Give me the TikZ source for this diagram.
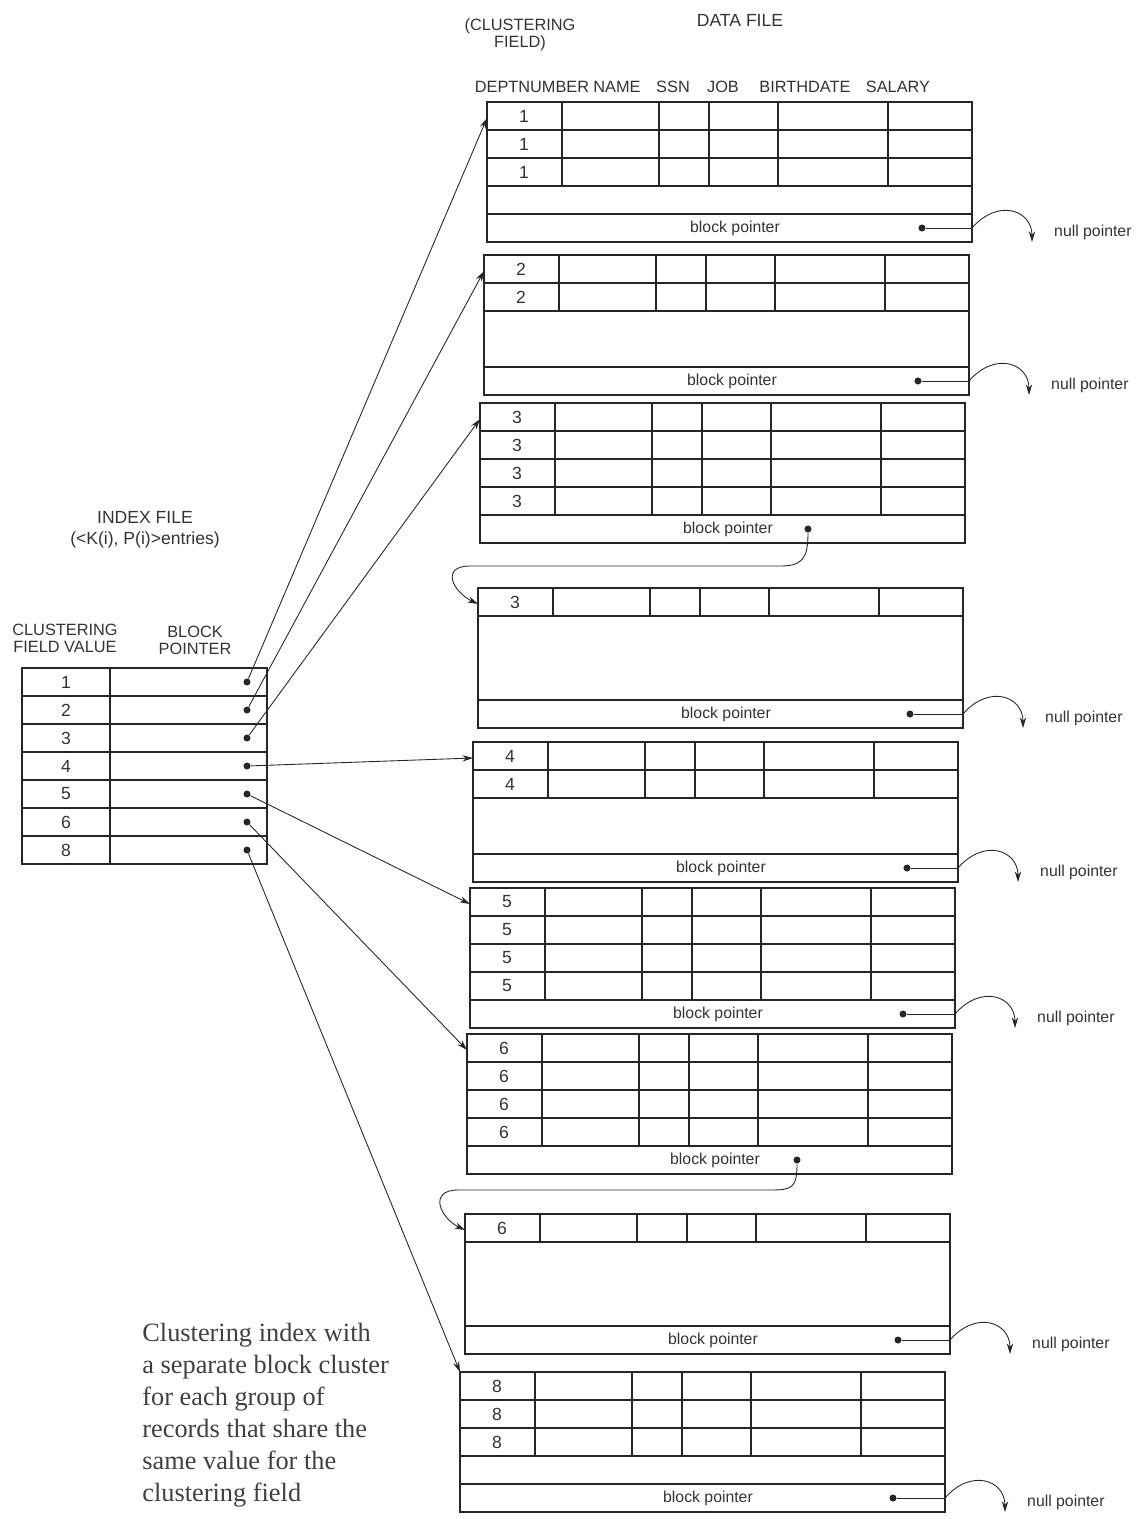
\documentclass[tikz,border=0pt]{standalone}
\usepackage{fontspec}
\setmainfont{Liberation Sans}
\newfontfamily\capfont{Liberation Serif}
\usetikzlibrary{arrows.meta,calc}

\newcommand{\datablock}[6]{%
  \begin{scope}[shift={(#2,#3)}]
    \draw[frame] (0,0) rectangle (485,140);
    \draw[frame] (0,112) -- (485,112);
    \foreach \row in {1,...,#5} {
      \draw[frame] (0,28*\row) -- (485,28*\row);
      \node[val] (#1-\row) at (37,28*\row-14) {#4};
    }
    \foreach \col in {75,172,222,291,401}
      \draw[frame] (\col,0) -- (\col,28*#5);
    \coordinate (#1-nw) at (0,0);
    \coordinate (#1-in) at (0,16);
    \coordinate (#1-e) at (485,126);
    \node[bp] (#1-t) at (248,126) {block pointer};
    \node[dot] (#1-p) at (#6,126) {};
  \end{scope}}

\newcommand{\nullarrow}[1]{%
  \draw[link] (#1-p) -- (#1-e);
  \coordinate (#1-n) at ($(#1-e)+(60,14)$);
  \draw[ptr] (#1-e) .. controls ($(#1-e)+(26,-30)$) and ($(#1-n)+(0,-32)$) .. (#1-n);
  \node[note] (#1-z) at ($(#1-e)+(76,4)$) {null pointer};}

\begin{document}
\begin{tikzpicture}[x=0.02cm, y=-0.02cm,
  frame/.style={draw=black!85, line width=0.9pt},
  link/.style={draw=black!85, line width=0.5pt},
  ptr/.style={link, -{Stealth[length=6pt,width=3.6pt]}},
  dot/.style={circle, fill=black!85, inner sep=0pt, minimum size=4pt},
  val/.style={font=\fontsize{10}{12}\selectfont, text=black!80},
  bp/.style={font=\fontsize{9}{11}\selectfont, text=black!80},
  note/.style={bp, anchor=west},
  head/.style={font=\fontsize{9.3}{9.7}\selectfont, text=black!80, align=center},
  title/.style={font=\fontsize{10}{11.9}\selectfont, text=black!80, align=center},
  caption/.style={font=\capfont\fontsize{15}{18.2}\selectfont, text=black!75, align=left, anchor=north west, inner sep=0pt}]
  \useasboundingbox (0,0) rectangle (1137,1519);

  \node[title] (df) at (740,20) {DATA FILE};
  \node[head] (cf) at (520,35) {(CLUSTERING\\FIELD)};
  \node[head] (h1) at (532,87) {DEPTNUMBER};
  \node[head] (h2) at (617,87) {NAME};
  \node[head] (h3) at (673,87) {SSN};
  \node[head] (h4) at (723,87) {JOB};
  \node[head] (h5) at (805,87) {BIRTHDATE};
  \node[head] (h6) at (898,87) {SALARY};

  \datablock{b1}{487}{102}{1}{3}{435}
  \datablock{b2}{484}{255}{2}{2}{434}
  \datablock{b3}{480}{403}{3}{4}{328}
  \datablock{b3x}{478}{588}{3}{1}{432}
  \datablock{b4}{473}{742}{4}{2}{434}
  \datablock{b5}{470}{888}{5}{4}{433}
  \datablock{b6}{467}{1034}{6}{4}{330}
  \datablock{b6x}{465}{1214}{6}{1}{433}
  \datablock{b8}{460}{1372}{8}{3}{433}

  \nullarrow{b1}
  \nullarrow{b2}
  \nullarrow{b3x}
  \nullarrow{b4}
  \nullarrow{b5}
  \nullarrow{b6x}
  \nullarrow{b8}

  \coordinate (c3a) at (780,566);
  \coordinate (c3b) at (470,566);
  \draw[ptr] (b3-p) .. controls ($(b3-p)+(0,30)$) and ($(c3a)+(22,0)$) .. (c3a) -- (c3b)
    .. controls ($(c3b)+(-30,0)$) and ($(b3x-in)+(-25,-12)$) .. (b3x-in);
  \coordinate (c6a) at (770,1190);
  \coordinate (c6b) at (458,1190);
  \draw[ptr] (b6-p) .. controls ($(b6-p)+(0,28)$) and ($(c6a)+(22,0)$) .. (c6a) -- (c6b)
    .. controls ($(c6b)+(-30,0)$) and ($(b6x-in)+(-25,-12)$) .. (b6x-in);

  \node[title] (idx) at (145,530) {INDEX FILE\\(<K(i), P(i)>entries)};
  \node[head] (cfv) at (65,638) {CLUSTERING\\FIELD VALUE};
  \node[head] (bpt) at (195,640) {BLOCK\\POINTER};
  \draw[frame] (22,668) rectangle (267,864);
  \draw[frame] (110,668) -- (110,864);
  \foreach \row in {1,...,6}
    \draw[frame] (22,668+28*\row) -- (267,668+28*\row);
  \foreach \v [count=\row] in {1,2,3,4,5,6,8} {
    \node[val] (iv\v) at (66,654+28*\row) {\v};
    \node[dot] (ip\v) at (247,654+28*\row) {};
  }

  \draw[ptr] (ip1) -- (b1-in);
  \draw[ptr] (ip2) -- (b2-in);
  \draw[ptr] (ip3) -- (b3-in);
  \draw[ptr] (ip4) -- (b4-in);
  \draw[ptr] (ip5) -- (b5-in);
  \draw[ptr] (ip6) -- (b6-in);
  \draw[ptr] (ip8) -- (b8-nw);

  \node[caption] (cap) at (142,1323) {Clustering index with\\a separate block cluster\\for each group of\\records that share the\\same value for the\\clustering field};
\end{tikzpicture}
\end{document}
